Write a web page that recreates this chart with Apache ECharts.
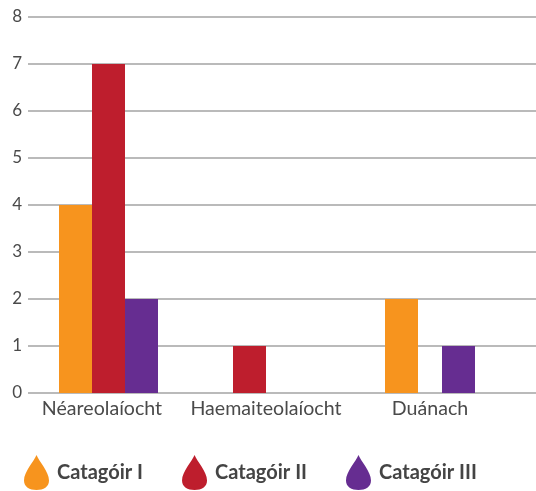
<!DOCTYPE html>
<html><head><meta charset="utf-8">
<script src="https://cdn.jsdelivr.net/npm/echarts@6/dist/echarts.min.js"></script>
<style>html,body{margin:0;padding:0;background:#fff}#c{width:536px;height:491px}</style>
</head><body><div id="c"></div>
<script>
const categories = ['Néareolaíocht', 'Haemaiteolaíocht', 'Duánach'];
const seriesNames = ['Catagóir I', 'Catagóir II', 'Catagóir III'];
const catI = [4, null, 2];
const catII = [7, 1, null];
const catIII = [2, null, 1];
const yTicks = [0, 1, 2, 3, 4, 5, 6, 7, 8];
const colors = ['#F7941E', '#BE1E2D', '#662D91'];

const seriesValues = [catI, catII, catIII];
const TOP = 17, HEIGHT = 376;
// The reference spaces its groups unevenly, so each series gets its own hidden band layout.
const seriesBands = [
  { left: -6, width: 489 },
  { left: 38, width: 423 },
  { left: 62.25, width: 475.5 }
];
const DROP = 'path://M50 0C60 26 100 66 100 102C100 128 78 140 50 140C22 140 0 128 0 102C0 66 40 26 50 0Z';
const gridCommon = { top: TOP, height: HEIGHT, outerBoundsMode: 'none' };

const grid = [
  Object.assign({ left: 28, width: 508 }, gridCommon),
  Object.assign({ left: 20, width: 492 }, gridCommon)
];
const xAxis = [
  { gridIndex: 0, type: 'category', data: categories, show: false },
  { gridIndex: 1, type: 'category', data: categories,
    axisLine: { show: false }, axisTick: { show: false },
    axisLabel: { margin: 6, color: '#4a4a4a', fontFamily: 'Lato', fontSize: 19.6, interval: 0 } }
];
const yBase = { type: 'value', min: 0, max: 8, interval: 1 };
const yAxis = [
  Object.assign({ gridIndex: 0 }, yBase, {
    axisLine: { show: false }, axisTick: { show: false },
    splitLine: { show: true, lineStyle: { color: '#a3a3a3', width: 1.5 } },
    axisLabel: { margin: 6, color: '#4a4a4a', fontFamily: 'Lato', fontSize: 17,
      formatter: v => yTicks.includes(v) ? String(v) : '' }
  }),
  Object.assign({ gridIndex: 1, show: false }, yBase)
];
const series = seriesNames.map((name, i) => {
  const g = grid.length;
  grid.push(Object.assign({ left: seriesBands[i].left, width: seriesBands[i].width }, gridCommon));
  xAxis.push({ gridIndex: g, type: 'category', data: categories, show: false });
  yAxis.push(Object.assign({ gridIndex: g, show: false }, yBase));
  return { name, type: 'bar', xAxisIndex: g, yAxisIndex: g, data: seriesValues[i],
    barWidth: 33, clip: false, itemStyle: { color: colors[i] } };
});

const chart = echarts.init(document.getElementById('c'), null, { renderer: 'canvas' });
chart.setOption({
  animation: false,
  backgroundColor: '#fff',
  color: colors,
  grid, xAxis, yAxis, series,
  legend: {
    left: 24, top: 455, padding: 0,
    itemWidth: 25, itemHeight: 35, itemGap: 39,
    icon: DROP,
    selectedMode: false,
    data: seriesNames,
    textStyle: { color: '#444', fontFamily: 'Lato', fontWeight: 'bold', fontSize: 20, padding: [2, 0, 0, 3] }
  }
});
</script></body></html>
